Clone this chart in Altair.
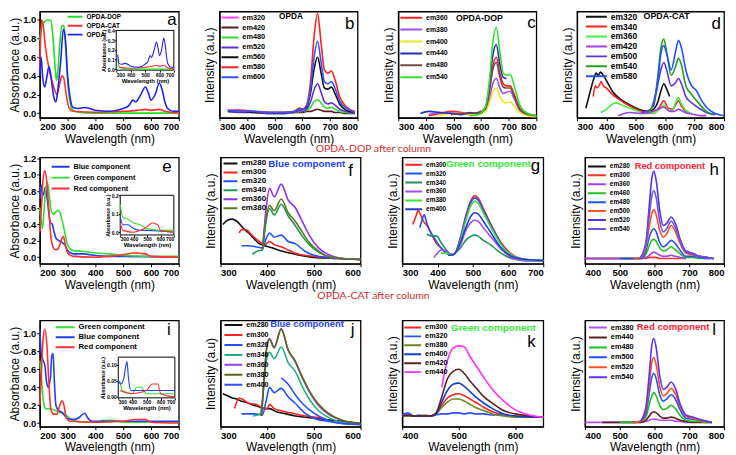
import altair as alt
import pandas as pd

# ---------------- panel a : absorbance ----------------
a_dop_x = [200, 210, 220, 230, 240, 248, 255, 260, 265, 272, 280, 287, 293, 300, 310, 320, 340, 400, 500, 600, 700]
a_dop_y = [0.78, 0.95, 0.99, 1.0, 0.99, 0.8, 0.5, 0.35, 0.45, 0.75, 0.94, 0.93, 0.7, 0.35, 0.1, 0.03, 0.01, 0.0, 0.0, 0.0, 0.0]
a_cat_x = [200, 206, 212, 220, 235, 250, 262, 272, 280, 286, 295, 305, 320, 400, 500, 550, 580, 600, 630, 650, 700]
a_cat_y = [0.45, 1.0, 0.95, 0.72, 0.45, 0.28, 0.2, 0.32, 0.4, 0.38, 0.2, 0.06, 0.02, 0.01, 0.02, 0.03, 0.04, 0.03, 0.04, 0.02, 0.0]
a_opda_x = [200, 205, 210, 218, 225, 233, 240, 250, 258, 265, 275, 285, 292, 300, 310, 320, 340, 360, 380, 400, 450, 500,
            520, 535, 545, 560, 580, 590, 600, 615, 630, 640, 650, 660, 680, 700]
a_opda_y = [0.4, 0.6, 0.4, 0.28, 0.38, 0.5, 0.4, 0.18, 0.12, 0.25, 0.55, 0.9, 0.8, 0.4, 0.15, 0.06, 0.05, 0.06, 0.05, 0.03,
            0.02, 0.05, 0.08, 0.14, 0.12, 0.18, 0.28, 0.22, 0.14, 0.2, 0.32, 0.25, 0.12, 0.05, 0.02, 0.02]

# ---------------- panel b : OPDA emission ----------------
b_x = [330, 380, 430, 480, 530, 570, 590, 600, 615, 630, 642, 655, 668, 680, 692, 705, 718, 735, 760, 790]
b_em320 = [0.07, 0.07, 0.06, 0.05, 0.05, None, None, None, None, None, None, None, None, None, None, None, None, None, None, None]
b_em420 = [None, None, 0.05, 0.04, 0.04, 0.05, 0.05, 0.05, 0.06, 0.06, 0.07, 0.08, 0.07, 0.06, 0.06, 0.06, 0.05, 0.05, 0.04, 0.04]
b_em480 = [None, None, None, 0.04, 0.04, 0.05, 0.06, 0.06, 0.07, 0.1, 0.15, 0.17, 0.14, 0.1, 0.09, 0.1, 0.08, 0.06, 0.05, 0.04]
b_em520 = [0.06, 0.05, 0.05, 0.04, 0.04, 0.05, 0.07, 0.06, 0.08, 0.15, 0.26, 0.32, 0.24, 0.15, 0.13, 0.14, 0.12, 0.08, 0.06, 0.04]
b_em560 = [0.06, 0.06, 0.05, 0.05, 0.05, 0.06, 0.09, 0.08, 0.1, 0.24, 0.45, 0.57, 0.42, 0.28, 0.27, 0.29, 0.23, 0.13, 0.07, 0.05]
b_em580 = [0.07, 0.07, 0.06, 0.05, 0.05, 0.06, 0.09, 0.08, 0.12, 0.35, 0.75, 0.98, 0.7, 0.45, 0.42, 0.44, 0.36, 0.2, 0.1, 0.06]
b_em600 = [0.07, 0.06, 0.06, 0.05, 0.05, 0.06, 0.08, 0.08, 0.11, 0.28, 0.56, 0.72, 0.52, 0.34, 0.32, 0.34, 0.28, 0.16, 0.09, 0.05]

# ---------------- panel c : OPDA-DOP emission ----------------
c_x = [380, 410, 450, 490, 530, 560, 590, 615, 630, 642, 655, 668, 680, 692, 705, 720, 740, 770, 800]
c_em360 = [None, 0.02, 0.04, 0.06, 0.05, 0.04, 0.05, 0.09, 0.25, 0.48, 0.57, 0.42, 0.32, 0.3, 0.3, 0.22, 0.09, 0.03, 0.02]
c_em380 = [None, 0.03, 0.05, 0.05, 0.04, 0.03, 0.04, 0.07, 0.18, 0.32, 0.37, 0.28, 0.23, 0.24, 0.25, 0.18, 0.07, 0.03, 0.02]
c_em400 = [None, None, 0.02, 0.04, 0.04, 0.03, 0.03, 0.06, 0.14, 0.24, 0.28, 0.2, 0.15, 0.14, 0.15, 0.11, 0.05, 0.02, 0.01]
c_em440 = [0.04, 0.06, 0.05, 0.04, 0.03, 0.05, 0.04, 0.09, 0.3, 0.58, 0.69, 0.5, 0.38, 0.37, None, None, None, None, None]
c_em480 = [None, None, None, 0.03, 0.04, 0.04, 0.05, 0.08, 0.25, 0.45, 0.52, 0.38, 0.29, 0.28, 0.28, 0.2, 0.08, 0.03, 0.02]
c_em540 = [None, None, None, None, None, 0.02, 0.03, 0.1, 0.35, 0.7, 0.85, 0.62, 0.42, 0.4, 0.41, 0.3, 0.12, 0.04, 0.02]

# ---------------- panel d : OPDA-CAT emission ----------------
d_em320_x = [330, 345, 355, 365, 372, 380, 387, 400, 420, 450, 480, 510, 540, 560, 575, 585, 595, 605, 615]
d_em320_y = [0.09, 0.25, 0.35, 0.42, 0.4, 0.43, 0.41, 0.35, 0.25, 0.17, 0.12, 0.08, 0.06, 0.08, 0.15, 0.25, 0.32, 0.27, 0.2]
d_em340_x = [355, 362, 368, 375, 382, 390, 400, 420, 450, 480, 510, 540, 560, 580, 595, 610, 625, 635, 645, 655, 670, 680]
d_em340_y = [0.2, 0.3, 0.28, 0.3, 0.34, 0.3, 0.28, 0.22, 0.16, 0.11, 0.07, 0.05, 0.06, 0.1, 0.16, 0.09, 0.08, 0.12, 0.16, 0.11, 0.06, 0.05]
d_em360_x = [380, 400, 415, 430, 445, 460, 480, 500, 530, 560, 580, 595, 610, 625, 635, 645, 655, 670, 690]
d_em360_y = [0.05, 0.08, 0.12, 0.14, 0.13, 0.11, 0.09, 0.07, 0.04, 0.04, 0.08, 0.12, 0.07, 0.07, 0.14, 0.19, 0.13, 0.07, 0.04]
d_em420_x = [440, 480, 520, 550, 575, 595, 615, 630, 645, 660, 680, 700, 720, 740]
d_em420_y = [0.02, 0.05, 0.04, 0.05, 0.08, 0.1, 0.06, 0.06, 0.08, 0.06, 0.04, 0.03, 0.02, 0.02]
d_em500_x = [520, 550, 570, 585, 595, 605, 620, 635, 645, 655, 670, 690, 710, 740, 770]
d_em500_y = [0.05, 0.08, 0.25, 0.45, 0.52, 0.45, 0.3, 0.33, 0.37, 0.32, 0.2, 0.14, 0.1, 0.05, 0.03]
d_em540_x = [540, 560, 575, 585, 595, 605, 620, 635, 645, 655, 670, 690, 710, 740, 760]
d_em540_y = [0.05, 0.12, 0.4, 0.65, 0.74, 0.62, 0.4, 0.48, 0.56, 0.5, 0.3, 0.22, 0.15, 0.06, 0.03]
d_em580_x = [560, 575, 585, 595, 605, 620, 635, 645, 655, 670, 690, 705, 720, 740, 770, 800]
d_em580_y = [0.1, 0.35, 0.6, 0.68, 0.6, 0.45, 0.62, 0.73, 0.66, 0.45, 0.3, 0.26, 0.18, 0.1, 0.04, 0.02]

# ---------------- panel e : DOP after column absorbance ----------------
e_blue_x = [200, 205, 210, 215, 220, 225, 232, 238, 245, 252, 260, 270, 280, 290, 300, 320, 360, 380, 400, 450, 500, 700]
e_blue_y = [0.7, 0.88, 0.75, 0.78, 0.85, 0.75, 0.55, 0.42, 0.4, 0.3, 0.22, 0.2, 0.18, 0.15, 0.08, 0.04, 0.04, 0.03, 0.02, 0.01, 0.01, 0.0]
e_green_x = [200, 205, 210, 215, 222, 228, 235, 242, 250, 258, 265, 272, 280, 290, 300, 320, 360, 400, 450, 500, 600, 700]
e_green_y = [0.6, 0.45, 0.35, 0.55, 0.85, 0.9, 0.72, 0.55, 0.52, 0.55, 0.57, 0.55, 0.45, 0.3, 0.15, 0.08, 0.07, 0.05, 0.04, 0.02, 0.01, 0.01]
e_red_x = [200, 205, 212, 218, 225, 232, 240, 248, 255, 265, 272, 280, 285, 292, 300, 320, 400, 450, 500, 540, 580, 600, 700]
e_red_y = [0.3, 0.55, 0.95, 1.05, 0.92, 0.6, 0.25, 0.12, 0.09, 0.1, 0.15, 0.23, 0.25, 0.15, 0.05, 0.01, 0.0, 0.01, 0.03, 0.05, 0.04, 0.01, 0.0]

# ---------------- panel f : DOP blue component ----------------
f_em280_x = [305, 315, 325, 335, 350, 365, 380, 395, 410, 430, 460, 500, 550, 600]
f_em280_y = [0.37, 0.41, 0.42, 0.4, 0.33, 0.27, 0.2, 0.17, 0.15, 0.12, 0.09, 0.06, 0.05, 0.04]
f_em300_x = [340, 345, 355, 365, 380, 395, 405, 415, 430, 445, 460, 480, 500, 550, 600]
f_em300_y = [0.29, 0.32, 0.32, 0.28, 0.22, 0.18, 0.21, 0.18, 0.16, 0.13, 0.1, 0.08, 0.07, 0.05, 0.04]
f_em320_x = [345, 360, 375, 390, 398, 405, 415, 430, 445, 460, 480, 500, 530, 560, 600]
f_em320_y = [0.17, 0.17, 0.16, 0.15, 0.24, 0.29, 0.25, 0.27, 0.21, 0.19, 0.12, 0.08, 0.06, 0.05, 0.04]
f_em340_x = [368, 380, 390, 396, 405, 415, 430, 445, 460, 475, 490, 510, 530, 560, 600]
f_em340_y = [0.09, 0.12, 0.13, 0.35, 0.52, 0.46, 0.56, 0.45, 0.36, 0.26, 0.18, 0.11, 0.07, 0.05, 0.04]
f_em360_x = [390, 396, 405, 415, 430, 445, 460, 475, 490, 510, 530, 560, 600]
f_em360_y = [0.14, 0.45, 0.71, 0.63, 0.75, 0.6, 0.53, 0.4, 0.27, 0.15, 0.09, 0.05, 0.04]
f_em380_x = [390, 396, 405, 415, 430, 445, 460, 475, 490, 510, 530, 560, 600]
f_em380_y = [0.14, 0.38, 0.55, 0.5, 0.61, 0.48, 0.4, 0.3, 0.2, 0.12, 0.07, 0.05, 0.04]

# ---------------- panel g : DOP green component ----------------
g_em300_x = [330, 338, 345, 352, 360, 370, 380, 395, 410, 425, 440, 450, 465, 480, 495, 505, 515, 530, 550, 580, 610, 650, 700]
g_em300_y = [0.37, 0.44, 0.5, 0.46, 0.4, 0.36, 0.3, 0.2, 0.15, 0.1, 0.08, 0.1, 0.25, 0.45, 0.6, 0.64, 0.62, 0.52, 0.38, 0.2, 0.09, 0.04, 0.03]
g_em320_x = [350, 355, 362, 370, 380, 395, 410, 425, 440, 450, 465, 480, 495, 505, 515, 530, 550, 580, 610, 650, 700]
g_em320_y = [0.34, 0.4, 0.46, 0.38, 0.3, 0.22, 0.15, 0.1, 0.08, 0.1, 0.24, 0.43, 0.58, 0.62, 0.6, 0.5, 0.37, 0.19, 0.08, 0.04, 0.03]
g_em340_x = [370, 385, 398, 410, 425, 440, 450, 465, 480, 495, 505, 515, 530, 550, 580, 610, 650, 700]
g_em340_y = [0.28, 0.26, 0.26, 0.2, 0.13, 0.09, 0.1, 0.15, 0.22, 0.26, 0.27, 0.26, 0.22, 0.18, 0.1, 0.05, 0.03, 0.03]
g_em360_x = [390, 400, 410, 425, 440, 450, 465, 480, 495, 505, 515, 530, 550, 580, 610, 650, 700]
g_em360_y = [0.06, 0.1, 0.13, 0.12, 0.09, 0.1, 0.18, 0.31, 0.39, 0.41, 0.4, 0.34, 0.26, 0.14, 0.06, 0.03, 0.03]
g_em380_x = [410, 425, 440, 450, 465, 480, 495, 505, 515, 530, 550, 580, 610, 650, 700]
g_em380_y = [0.1, 0.1, 0.08, 0.1, 0.22, 0.4, 0.55, 0.59, 0.57, 0.48, 0.35, 0.18, 0.08, 0.04, 0.03]
g_em400_x = [430, 440, 450, 465, 480, 495, 505, 515, 530, 550, 580, 610, 650, 700]
g_em400_y = [0.08, 0.08, 0.1, 0.2, 0.34, 0.45, 0.48, 0.47, 0.4, 0.3, 0.15, 0.07, 0.04, 0.03]

# ---------------- panel h : DOP red component ----------------
h_x = [400, 450, 500, 540, 560, 575, 585, 592, 598, 605, 615, 625, 635, 648, 660, 675, 690, 710, 730, 750, 770]
h_em280 = [0.05, 0.05, 0.05, 0.05, 0.05, None, None, None, None, None, None, None, None, None, None, None, None, None, None, None, None]
h_em300 = [0.05, 0.05, 0.05, 0.05, 0.05, 0.05, 0.06, 0.06, 0.06, 0.06, 0.05, 0.05, 0.05, 0.05, 0.05, 0.05, 0.05, None, None, None, None]
h_em360 = [0.05, 0.05, 0.05, 0.05, 0.05, 0.06, 0.08, 0.1, 0.11, 0.1, 0.08, 0.07, 0.07, 0.08, 0.07, 0.06, 0.05, None, None, None, None]
h_em460 = [None, None, 0.05, 0.05, 0.05, 0.09, 0.17, 0.22, 0.23, 0.21, 0.15, 0.12, 0.13, 0.16, 0.13, 0.09, 0.06, 0.06, 0.05, 0.05, 0.05]
h_em480 = [None, None, 0.05, 0.05, 0.05, 0.12, 0.25, 0.31, 0.33, 0.3, 0.2, 0.16, 0.18, 0.22, 0.19, 0.12, 0.07, 0.07, 0.06, 0.05, 0.05]
h_em500 = [None, None, None, 0.05, 0.06, 0.15, 0.35, 0.47, 0.51, 0.46, 0.31, 0.25, 0.28, 0.36, 0.3, 0.18, 0.1, 0.08, 0.07, 0.06, 0.05]
h_em520 = [None, None, None, None, 0.06, 0.2, 0.55, 0.8, 0.87, 0.78, 0.5, 0.36, 0.38, 0.44, 0.38, 0.22, 0.12, 0.1, 0.07, 0.06, 0.05]
h_em540 = [None, None, None, None, 0.06, 0.18, 0.45, 0.63, 0.69, 0.62, 0.4, 0.3, 0.33, 0.4, 0.34, 0.2, 0.11, 0.09, 0.07, 0.06, 0.05]

# ---------------- panel i : CAT after column absorbance ----------------
i_green_x = [200, 205, 210, 215, 222, 235, 250, 270, 290, 310, 330, 400, 430, 460, 500, 700]
i_green_y = [0.7, 0.55, 0.35, 0.2, 0.16, 0.16, 0.15, 0.12, 0.1, 0.05, 0.02, 0.01, 0.03, 0.03, 0.01, 0.01]
i_blue_x = [200, 205, 210, 218, 225, 230, 238, 243, 248, 252, 258, 265, 280, 300, 320, 340, 355, 362, 372, 390, 420, 700]
i_blue_y = [1.05, 0.8, 0.72, 0.65, 0.45, 0.4, 0.5, 0.75, 0.78, 0.5, 0.2, 0.15, 0.12, 0.05, 0.04, 0.06, 0.1, 0.11, 0.06, 0.02, 0.02, 0.02]
i_red_x = [200, 205, 212, 218, 225, 232, 240, 250, 262, 272, 280, 287, 295, 310, 400, 500, 540, 580, 600, 700]
i_red_y = [0.2, 0.5, 0.95, 1.05, 0.9, 0.5, 0.15, 0.1, 0.1, 0.2, 0.25, 0.2, 0.06, 0.02, 0.01, 0.02, 0.04, 0.04, 0.01, 0.0]

# ---------------- panel j : CAT blue component ----------------
j_em280_x = [305, 315, 325, 335, 345, 355, 365, 380, 395, 405, 420, 440, 460, 480, 500, 520, 560, 600]
j_em280_y = [0.31, 0.29, 0.27, 0.26, 0.24, 0.23, 0.21, 0.19, 0.17, 0.17, 0.14, 0.12, 0.1, 0.09, 0.08, 0.07, 0.05, 0.03]
j_em300_x = [330, 340, 350, 360, 375, 390, 400, 405, 415, 430, 450, 470, 500, 520]
j_em300_y = [0.17, 0.27, 0.25, 0.22, 0.21, 0.18, 0.17, 0.21, 0.17, 0.15, 0.13, 0.11, 0.09, 0.08]
j_em320_x = [345, 360, 375, 390, 398, 405, 415, 430, 445, 460, 480, 500, 530, 560, 600]
j_em320_y = [0.12, 0.12, 0.12, 0.11, 0.25, 0.37, 0.32, 0.36, 0.28, 0.22, 0.13, 0.08, 0.05, 0.03, 0.02]
j_em340_x = [370, 385, 392, 398, 405, 415, 430, 445, 460, 475, 490, 510, 530, 560, 600]
j_em340_y = [0.1, 0.12, 0.35, 0.62, 0.7, 0.64, 0.75, 0.6, 0.52, 0.38, 0.26, 0.15, 0.09, 0.04, 0.02]
j_em360_x = [388, 394, 400, 405, 415, 430, 445, 460, 475, 490, 510, 530, 560, 600]
j_em360_y = [0.1, 0.5, 0.78, 0.83, 0.75, 0.92, 0.72, 0.61, 0.46, 0.33, 0.2, 0.12, 0.06, 0.02]
j_em380_x = [388, 394, 400, 405, 415, 430, 445, 460, 475, 490, 510, 530, 560, 600]
j_em380_y = [0.1, 0.48, 0.77, 0.82, 0.74, 0.92, 0.72, 0.62, 0.47, 0.34, 0.21, 0.13, 0.06, 0.03]
j_em400_x = [430, 445, 460, 475, 490, 510, 530, 560, 600]
j_em400_y = [0.46, 0.4, 0.3, 0.22, 0.16, 0.1, 0.06, 0.03, 0.02]

# ---------------- panel k : CAT green component ----------------
k_x = [400, 410, 420, 430, 440, 450, 460, 470, 480, 490, 500, 510, 520, 530, 545, 560, 580, 600, 625, 650]
k_em300 = [0.1, 0.1, 0.1, 0.1, 0.1, 0.1, 0.12, 0.2, 0.27, 0.3, 0.31, 0.29, 0.26, 0.23, 0.18, 0.14, 0.11, 0.1, 0.09, 0.09]
k_em320 = [0.11, 0.13, 0.1, 0.11, 0.1, 0.1, 0.11, 0.12, 0.12, 0.13, 0.13, 0.12, 0.13, 0.12, 0.12, 0.11, 0.12, None, None, None]
k_em380 = [0.1, 0.1, 0.1, 0.1, 0.11, 0.1, 0.12, 0.18, 0.23, 0.26, 0.26, 0.24, 0.21, 0.18, 0.15, 0.12, 0.1, 0.09, 0.09, 0.09]
k_em400 = [0.1, 0.11, 0.1, 0.1, 0.1, 0.1, 0.12, 0.23, 0.34, 0.4, 0.41, 0.38, 0.33, 0.28, 0.22, 0.17, 0.12, 0.1, 0.09, 0.09]
k_em420 = [0.1, 0.11, 0.1, 0.1, 0.1, 0.1, 0.13, 0.28, 0.45, 0.52, 0.54, 0.5, 0.43, 0.37, 0.28, 0.22, 0.15, 0.12, 0.1, 0.09]
k_em440 = [None, None, None, None, None, None, None, 0.37, 0.62, 0.74, 0.76, 0.75, 0.66, 0.58, 0.46, 0.35, 0.24, 0.16, 0.11, 0.09]

# ---------------- panel l : CAT red component ----------------
l_x = [400, 450, 500, 540, 560, 575, 585, 592, 598, 605, 615, 625, 635, 648, 660, 675, 690, 710, 730, 750, 765]
l_em380 = [0.04, 0.04, 0.04, 0.04, 0.04, 0.05, 0.06, 0.07, 0.07, 0.07, 0.06, 0.06, 0.06, 0.06, 0.05, 0.05, 0.04, 0.04, None, None, None]
l_em440 = [None, 0.04, 0.04, 0.04, 0.04, 0.06, 0.1, 0.13, 0.14, 0.13, 0.1, 0.08, 0.08, 0.09, 0.08, 0.06, 0.05, 0.04, 0.04, 0.04, 0.04]
l_em480 = [None, None, 0.04, 0.04, 0.05, 0.09, 0.21, 0.29, 0.32, 0.29, 0.2, 0.16, 0.17, 0.2, 0.17, 0.1, 0.06, 0.05, 0.05, 0.04, 0.04]
l_em500 = [None, None, None, 0.04, 0.05, 0.12, 0.32, 0.46, 0.5, 0.45, 0.3, 0.24, 0.26, 0.3, 0.26, 0.15, 0.08, 0.07, 0.06, 0.05, 0.04]
l_em520 = [None, None, None, 0.04, 0.05, 0.15, 0.4, 0.6, 0.65, 0.58, 0.38, 0.29, 0.31, 0.36, 0.31, 0.18, 0.1, 0.08, 0.06, 0.05, 0.04]
l_em540 = [None, None, None, None, 0.05, 0.18, 0.5, 0.76, 0.83, 0.74, 0.48, 0.35, 0.37, 0.42, 0.36, 0.2, 0.11, 0.09, 0.07, 0.05, 0.04]

FONT = "Liberation Sans"


def records(series):
    out = []
    for name, xs, ys in series:
        for x, y in zip(xs, ys):
            if y is not None:
                out.append({"wl": x, "val": y, "series": name})
    return pd.DataFrame(out)


def one(text):
    return pd.DataFrame({"t": [text]})


def panel(series, colors, w, h, xdom, xticks, ydom, ytitle, leg, letter,
          yticks=None, yfmt=".1f", tag=None, inset=None, row_title=None):
    df = records(series)
    names = [s[0] for s in series]
    lx, ly, rowh, lfs, ssize = leg
    color = alt.Color(
        "series:N",
        scale=alt.Scale(domain=names, range=colors),
        legend=alt.Legend(title=None, orient="none", legendX=lx, legendY=ly,
                          symbolType="stroke", symbolSize=ssize, symbolStrokeWidth=2,
                          labelFontSize=lfs, labelFont=FONT, labelFontWeight="bold",
                          labelColor="black", clipHeight=rowh, rowPadding=0,
                          labelOffset=3, padding=0, labelLimit=200),
    )
    if yticks is None:
        yaxis = alt.Axis(title=ytitle, labels=False, ticks=False, tickSize=0,
                         titleFontSize=12, titlePadding=3)
    else:
        yaxis = alt.Axis(title=ytitle, values=yticks, format=yfmt, labelFontSize=9.5,
                         titleFontSize=12, labelPadding=1, titlePadding=1, tickSize=3)
    xaxis = alt.Axis(title="Wavelength (nm)", values=xticks, format="d", labelFontSize=9.5,
                     titleFontSize=12, labelPadding=1, titlePadding=2, tickSize=3)
    layers = [
        alt.Chart(df).mark_line(strokeWidth=1.6, interpolate="monotone").encode(
            x=alt.X("wl:Q", scale=alt.Scale(domain=xdom, nice=False, zero=False), axis=xaxis),
            y=alt.Y("val:Q", scale=alt.Scale(domain=ydom, nice=False, zero=False), axis=yaxis),
            color=color,
        )
    ]
    if inset is not None:
        x0, x1, y0, y1 = inset["box"]
        layers.append(
            alt.Chart(one("")).mark_rect(fill="white", stroke="black", strokeWidth=1).encode(
                x=alt.value(x0), x2=alt.value(x1), y=alt.value(y0), y2=alt.value(y1))
        )
        sub = df[df["wl"] >= inset["lo"]]
        layers.append(
            alt.Chart(sub).mark_line(strokeWidth=1.1, interpolate="monotone").encode(
                x=alt.X("wl:Q", scale=alt.Scale(domain=[300, 700], range=[x0, x1], nice=False, zero=False),
                        axis=alt.Axis(orient="bottom", offset=-(h - y1), values=[300, 400, 500, 600, 700],
                                      format="d", labelFontSize=5, title="Wavelength (nm)", titleFontSize=6,
                                      titleFontWeight="bold", tickSize=2, labelPadding=0, titlePadding=0,
                                      domain=False)),
                y=alt.Y("val:Q", scale=alt.Scale(domain=inset["ydom"], range=[y1, y0], nice=False, zero=False),
                        axis=alt.Axis(orient="left", offset=-x0, values=inset["yticks"], format=inset["yfmt"],
                                      labelFontSize=5, title="Absorbance (a.u.)", titleFontSize=5,
                                      titleFontWeight="bold", tickSize=2, labelPadding=0, titlePadding=1,
                                      domain=False)),
                color=color,
            )
        )
    lt, lxp, lyp = letter
    layers.append(
        alt.Chart(one(lt)).mark_text(font=FONT, fontSize=17, align="center", baseline="middle",
                                     color="black").encode(
            text="t:N", x=alt.value(w - lxp), y=alt.value(lyp))
    )
    if tag is not None:
        ttext, tx, ty, tfs, tcol = tag
        layers.append(
            alt.Chart(one(ttext)).mark_text(font=FONT, fontSize=tfs, fontWeight="bold", align="left",
                                            baseline="middle", color=tcol).encode(
                text="t:N", x=alt.value(tx), y=alt.value(ty))
        )
    if row_title is not None:
        rt, rx, ry = row_title
        layers.append(
            alt.Chart(one(rt)).mark_text(font="Lato", fontSize=10.5, align="center", baseline="middle",
                                         color="#d42a2a").encode(
                text="t:N", x=alt.value(rx), y=alt.value(ry))
        )
    return alt.layer(*layers).resolve_scale(x="independent", y="independent").properties(width=w, height=h)


H = 107
pa = panel([("OPDA-DOP", a_dop_x, a_dop_y), ("OPDA-CAT", a_cat_x, a_cat_y), ("OPDA", a_opda_x, a_opda_y)],
           ["#22dd22", "#ff3030", "#2222ee"], 140, H, [200, 700], [200, 300, 400, 500, 600, 700],
           [-0.05, 1.09], "Absorbance (a.u.)", (27, 1, 8.5, 6.5, 225), ("a", 7, 9),
           yticks=[0, 0.2, 0.4, 0.6, 0.8, 1.0],
           inset={"box": (77, 135, 19, 59), "lo": 310, "ydom": [-0.01, 0.4],
                  "yticks": [0, 0.1, 0.2, 0.3, 0.4], "yfmt": ".1f"})
pb = panel([("em320", b_x, b_em320), ("em420", b_x, b_em420), ("em480", b_x, b_em480),
            ("em520", b_x, b_em520), ("em560", b_x, b_em560), ("em580", b_x, b_em580), ("em600", b_x, b_em600)],
           ["#ff40ff", "#5a1a1a", "#33dd33", "#6030e0", "#111111", "#ff2020", "#3355ff"],
           139, H, [300, 800], [300, 400, 500, 600, 700, 800], [0, 1], "Intensity (a.u.)",
           (1, 1.5, 9.2, 7.4, 289), ("b", 8, 13), tag=("OPDA", 60, 6, 8.3, "black"),
           row_title=("OPDA-DOP after column", 155, H + 31))
pc = panel([("em360", c_x, c_em360), ("em380", c_x, c_em380), ("em400", c_x, c_em400),
            ("em440", c_x, c_em440), ("em480", c_x, c_em480), ("em540", c_x, c_em540)],
           ["#ff2020", "#a050f0", "#e8e820", "#2030c0", "#7a4a4a", "#33dd33"],
           139, H, [300, 800], [300, 400, 500, 600, 700, 800], [0, 1], "Intensity (a.u.)",
           (1, 0.5, 11.4, 7, 484), ("c", 5, 12), tag=("OPDA-DOP", 58, 7, 8.8, "black"))
pd_ = panel([("em320", d_em320_x, d_em320_y), ("em340", d_em340_x, d_em340_y), ("em360", d_em360_x, d_em360_y),
             ("em420", d_em420_x, d_em420_y), ("em500", d_em500_x, d_em500_y), ("em540", d_em540_x, d_em540_y),
             ("em580", d_em580_x, d_em580_y)],
            ["#111111", "#ff2020", "#44ee44", "#a040f0", "#6030e8", "#20a020", "#2050ff"],
            148, H, [300, 800], [300, 400, 500, 600, 700, 800], [0, 1], "Intensity (a.u.)",
            (8, 0.5, 9.3, 8.5, 441), ("d", 8, 13), tag=("OPDA-CAT", 67, 5, 8.9, "black"))

pe = panel([("Blue component", e_blue_x, e_blue_y), ("Green component", e_green_x, e_green_y),
            ("Red component", e_red_x, e_red_y)],
           ["#2040ee", "#33dd33", "#ff3030"], 140, H, [200, 700], [200, 300, 400, 500, 600, 700],
           [-0.08, 1.21], "Absorbance (a.u.)", (11, 4, 10.5, 7.3, 324), ("e", 12, 10),
           yticks=[0, 0.2, 0.4, 0.6, 0.8, 1.0, 1.2],
           inset={"box": (81, 135, 38, 78), "lo": 300, "ydom": [-0.015, 0.2],
                  "yticks": [0, 0.1, 0.2], "yfmt": ".1f"})
pf = panel([("em280", f_em280_x, f_em280_y), ("em300", f_em300_x, f_em300_y), ("em320", f_em320_x, f_em320_y),
            ("em340", f_em340_x, f_em340_y), ("em360", f_em360_x, f_em360_y), ("em380", f_em380_x, f_em380_y)],
           ["#111111", "#ff2020", "#2050ff", "#209850", "#9030f0", "#5a7a20"],
           141, H, [300, 600], [300, 400, 500, 600], [0, 1], "Intensity (a.u.)",
           (2, 1.7, 8.6, 8, 196), ("f", 10, 14), tag=("Blue component", 48, 7, 9.9, "#2244ff"),
           row_title=("OPDA-CAT after column", 154, H + 32))
pg = panel([("em300", g_em300_x, g_em300_y), ("em320", g_em320_x, g_em320_y), ("em340", g_em340_x, g_em340_y),
            ("em360", g_em360_x, g_em360_y), ("em380", g_em380_x, g_em380_y), ("em400", g_em400_x, g_em400_y)],
           ["#ff2020", "#2050ff", "#209060", "#a050f0", "#40e040", "#2040d0"],
           142, H, [300, 700], [300, 400, 500, 600, 700], [0, 1], "Intensity (a.u.)",
           (2, 3, 8.4, 6.5, 289), ("g", 8, 9), tag=("Green component", 44, 7, 10, "#33ee33"))
ph = panel([("em280", h_x, h_em280), ("em300", h_x, h_em300), ("em360", h_x, h_em360), ("em460", h_x, h_em460),
            ("em480", h_x, h_em480), ("em500", h_x, h_em500), ("em520", h_x, h_em520), ("em540", h_x, h_em540)],
           ["#111111", "#ff3030", "#a040f0", "#20c020", "#2050ff", "#ff5020", "#5030f0", "#7050e0"],
           140, H, [400, 800], [400, 500, 600, 700, 800], [0, 1], "Intensity (a.u.)",
           (2, 4.5, 8.9, 6.5, 324), ("h", 10, 13), tag=("Red component", 50, 9, 9.4, "#ff2233"))

pi = panel([("Green component", i_green_x, i_green_y), ("Blue component", i_blue_x, i_blue_y),
            ("Red component", i_red_x, i_red_y)],
           ["#33dd33", "#2040ee", "#ff3030"], 140, H, [200, 700], [200, 300, 400, 500, 600, 700],
           [-0.04, 1.15], "Absorbance (a.u.)", (15, 2, 10, 7.8, 361), ("i", 10, 10),
           yticks=[0, 0.2, 0.4, 0.6, 0.8, 1.0],
           inset={"box": (79, 136, 37, 78), "lo": 300, "ydom": [-0.003, 0.124],
                  "yticks": [0, 0.05, 0.1], "yfmt": ".2f"})
pj = panel([("em280", j_em280_x, j_em280_y), ("em300", j_em300_x, j_em300_y), ("em320", j_em320_x, j_em320_y),
            ("em340", j_em340_x, j_em340_y), ("em360", j_em360_x, j_em360_y), ("em380", j_em380_x, j_em380_y),
            ("em400", j_em400_x, j_em400_y)],
           ["#111111", "#ff2020", "#2050ff", "#20b080", "#9040f0", "#5a6a10", "#3050ff"],
           141, H, [300, 600], [300, 400, 500, 600], [0, 1], "Intensity (a.u)",
           (3, 0, 9.5, 7.2, 324), ("j", 8, 10), tag=("Blue component", 50, 4, 9.5, "#2244ff"))
pk = panel([("em300", k_x, k_em300), ("em320", k_x, k_em320), ("em380", k_x, k_em380),
            ("em400", k_x, k_em400), ("em420", k_x, k_em420), ("em440", k_x, k_em440)],
           ["#ff2020", "#3050ff", "#6a8a20", "#1040d0", "#602020", "#ff30ff"],
           142, H, [400, 650], [400, 500, 600], [0, 1], "Intensity (a.u.)",
           (1, 3, 8.2, 7.3, 289), ("k", 12, 22), tag=("Green component", 49, 8, 10, "#33ee33"))
pl = panel([("em380", l_x, l_em380), ("em440", l_x, l_em440), ("em480", l_x, l_em480),
            ("em500", l_x, l_em500), ("em520", l_x, l_em520), ("em540", l_x, l_em540)],
           ["#b050ff", "#602020", "#20c020", "#2050ff", "#ff5020", "#6030f0"],
           140, H, [400, 800], [400, 500, 600, 700, 800], [0, 1], "Intensity (a.u.)",
           (3, 2.5, 9.4, 7.4, 324), ("l", 10, 10), tag=("Red component", 52, 7, 9.7, "#ff2233"))

RES = dict(color="independent", x="independent", y="independent")
row1 = alt.hconcat(pa, pb, pc, pd_, spacing=41, bounds="flush").resolve_scale(**RES)
row2 = alt.hconcat(pe, pf, pg, ph, spacing=42, bounds="flush").resolve_scale(**RES)
row3 = alt.hconcat(pi, pj, pk, pl, spacing=42, bounds="flush").resolve_scale(**RES)
lower = alt.vconcat(row2, row3, spacing=16).resolve_scale(**RES)
chart = alt.vconcat(row1, lower, spacing=-3).resolve_scale(**RES).properties(
    padding={"left": 0, "top": 0, "right": 0, "bottom": 0}, background="white"
).configure_view(stroke="black", strokeWidth=1.3).configure_axis(
    grid=False, domainColor="black", tickColor="black", labelColor="black", titleColor="black",
    labelFont=FONT, titleFont=FONT, labelFontWeight="bold", titleFontWeight="normal", domainWidth=1.2
)

chart.save("out.html", embed_options={"renderer": "svg", "actions": False})
